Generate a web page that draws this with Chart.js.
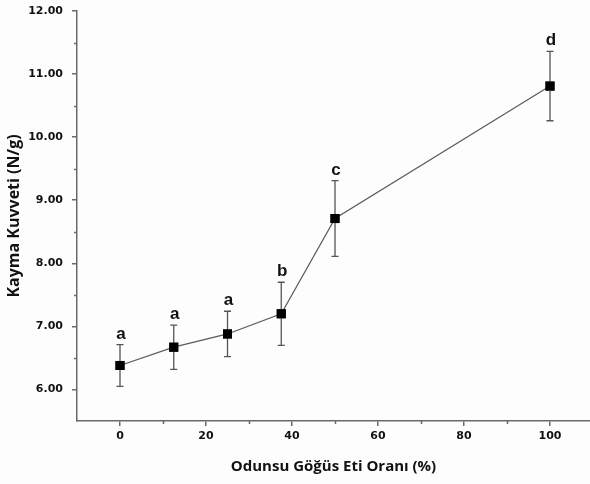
<!DOCTYPE html>
<html>
<head>
<meta charset="utf-8">
<script src="https://cdn.jsdelivr.net/npm/chart.js@4/dist/chart.umd.min.js"></script>
<style>
html,body{margin:0;padding:0;background:#fdfdfd;}
#wrap{width:590px;height:484px;position:relative;}
</style>
</head>
<body>
<div id="wrap"><canvas id="c" width="590" height="484"></canvas></div>
<script>
// Data
const ratios = [0, 12.5, 25, 37.5, 50, 100];          // Odunsu Göğüs Eti Oranı (%)
const shearForce = [6.38, 6.67, 6.88, 7.20, 8.71, 10.81]; // Kayma Kuvveti (N/g)
const errors = [0.33, 0.35, 0.36, 0.50, 0.60, 0.55];
const groupLetters = ['a', 'a', 'a', 'b', 'c', 'd'];
const xTicks = [0, 20, 40, 60, 80, 100];
const xMinorTicks = [10, 30, 50, 70, 90];
const yTicks = [6, 7, 8, 9, 10, 11, 12];
const yMinorTicks = [6.5, 7.5, 8.5, 9.5, 10.5, 11.5];

const points = ratios.map((x, i) => ({x: x, y: shearForce[i]}));
const axisColor = '#6a6a6a';

const extras = {
  id: 'extras',
  beforeDraw(chart) {
    const ctx = chart.ctx;
    ctx.save();
    ctx.fillStyle = '#fdfdfd';
    ctx.fillRect(0, 0, chart.width, chart.height);
    ctx.restore();
  },
  afterDraw(chart) {
    const ctx = chart.ctx;
    const xs = chart.scales.x, ys = chart.scales.y;
    const area = chart.chartArea;
    ctx.save();
    ctx.strokeStyle = axisColor;
    ctx.lineWidth = 1.5;
    xMinorTicks.forEach(v => {
      const px = Math.round(xs.getPixelForValue(v)) + 0.5;
      ctx.beginPath(); ctx.moveTo(px, area.bottom); ctx.lineTo(px, area.bottom + 3); ctx.stroke();
    });
    yMinorTicks.forEach(v => {
      const py = Math.round(ys.getPixelForValue(v)) + 0.5;
      ctx.beginPath(); ctx.moveTo(area.left, py); ctx.lineTo(area.left - 3, py); ctx.stroke();
    });
    ctx.restore();
  },
  afterDatasetsDraw(chart) {
    const ctx = chart.ctx;
    const xs = chart.scales.x, ys = chart.scales.y;
    ctx.save();
    ctx.strokeStyle = '#555';
    ctx.lineWidth = 1.3;
    ratios.forEach((x, i) => {
      const px = xs.getPixelForValue(x);
      const top = ys.getPixelForValue(shearForce[i] + errors[i]);
      const bot = ys.getPixelForValue(shearForce[i] - errors[i]);
      ctx.beginPath();
      ctx.moveTo(px, top); ctx.lineTo(px, bot);
      ctx.moveTo(px - 3.5, top); ctx.lineTo(px + 3.5, top);
      ctx.moveTo(px - 3.5, bot); ctx.lineTo(px + 3.5, bot);
      ctx.stroke();
      ctx.fillStyle = '#111';
      ctx.font = 'bold 17px "Liberation Sans", Arial, sans-serif';
      ctx.textAlign = 'center';
      ctx.textBaseline = 'alphabetic';
      ctx.fillText(groupLetters[i], px + 1, top - 6);
    });
    ctx.fillStyle = '#000';
    ratios.forEach((x, i) => {
      const px = xs.getPixelForValue(x);
      const py = ys.getPixelForValue(shearForce[i]);
      ctx.fillRect(px - 4.5, py - 4.5, 9, 9);
    });
    ctx.restore();
  }
};

new Chart(document.getElementById('c'), {
  type: 'line',
  data: {
    datasets: [{
      data: points,
      borderColor: '#5a5a5a',
      borderWidth: 1.2,
      pointStyle: 'rect',
      pointRadius: 6.4,
      pointBackgroundColor: '#000',
      pointBorderWidth: 0,
      fill: false,
      tension: 0
    }]
  },
  options: {
    responsive: false,
    animation: false,
    events: [],
    layout: {autoPadding: false, padding: {top: 11, right: 0, bottom: 0, left: 0}},
    plugins: {legend: {display: false}, tooltip: {enabled: false}},
    scales: {
      x: {
        type: 'linear',
        min: -10,
        max: 109.3,
        afterBuildTicks: s => { s.ticks = xTicks.map(v => ({value: v})); },
        afterFit: s => { s.height = 63; s.paddingLeft = 0; s.paddingRight = 0; },
        border: {display: true, color: axisColor, width: 1.5},
        grid: {display: true, drawOnChartArea: false, drawTicks: true, tickLength: 5, color: axisColor, lineWidth: 1.5},
        ticks: {
          padding: 4,
          color: '#111',
          font: {family: '"DejaVu Sans", Verdana, sans-serif', size: 11, weight: 'bold'},
          callback: v => String(v)
        },
        title: {
          display: true,
          text: 'Odunsu Göğüs Eti Oranı (%)',
          color: '#111',
          font: {family: '"Open Sans", sans-serif', size: 15, weight: 'bold'},
          padding: {top: 4, bottom: 8}
        }
      },
      y: {
        type: 'linear',
        min: 5.5,
        max: 12,
        afterBuildTicks: s => { s.ticks = yTicks.map(v => ({value: v})); },
        afterFit: s => { s.width = 77; s.paddingTop = 0; s.paddingBottom = 0; },
        border: {display: true, color: axisColor, width: 1.5},
        grid: {display: true, drawOnChartArea: false, drawTicks: true, tickLength: 5, color: axisColor, lineWidth: 1.5},
        ticks: {
          padding: 9,
          color: '#111',
          font: {family: '"DejaVu Sans", Verdana, sans-serif', size: 11, weight: 'bold'},
          callback: v => Number(v).toFixed(2)
        },
        title: {
          display: true,
          text: 'Kayma Kuvveti (N/g)',
          color: '#111',
          font: {family: '"Open Sans", sans-serif', size: 16, weight: 'bold'},
          padding: {top: 5, bottom: 0}
        }
      }
    }
  },
  plugins: [extras]
});
</script>
</body>
</html>
